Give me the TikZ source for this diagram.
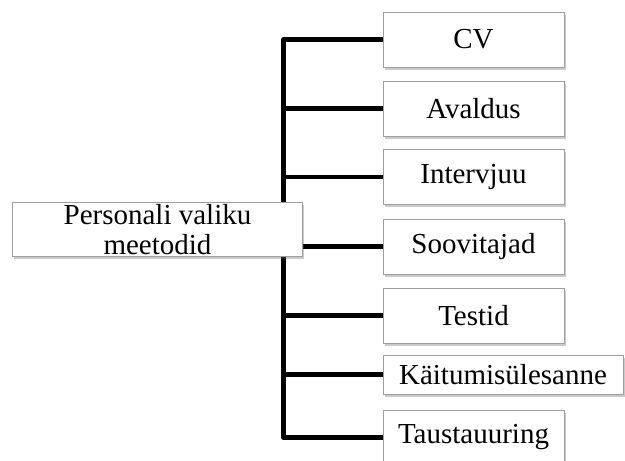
\documentclass[tikz,border=0pt]{standalone}
\usepackage{fontspec}
\setmainfont{Liberation Serif}
\usetikzlibrary{shadows,backgrounds}
\begin{document}
\begin{tikzpicture}[x=1pt,y=-1pt,
  box/.style={draw=black!38, line width=1pt, fill=white, inner sep=0pt,
    align=center, font=\fontsize{29}{30}\selectfont,
    drop shadow={shadow xshift=1.5pt, shadow yshift=-2.5pt, opacity=0.35, fill=black!60}},
  item/.style={box, minimum width=181pt, minimum height=55pt},
  link/.style={line width=4.6pt, line join=round, draw=black}]
\useasboundingbox (0,0) rectangle (625,461);

% main topic
\node[box, minimum width=290pt, minimum height=54pt] (main) at (157.5,229.7)
  {Personali valiku\\meetodid};

% methods
\node[item] (cv)   at (473.5,39.5)  {CV};
\node[item] (aval) at (473.5,108.5) {Avaldus};
\node[item] (intv) at (473.5,177)   {Intervjuu};
\node[item] (soov) at (473.5,246.5) {Soovitajad};
\node[item] (test) at (473.5,315.5) {Testid};
\node[box, minimum width=240pt, minimum height=39pt] (kait) at (503,374.5) {Käitumisülesanne};
\node[item] (taus) at (473.5,437.5) {Taustauuring};

\coordinate (trunk) at (283.5,0);

\begin{scope}[on background layer]
  \draw[link] (cv.west) -- (cv.west -| trunk) -- (taus.west -| trunk) -- (taus.west);
  \foreach \n in {aval,intv,soov,test,kait}
    \draw[link] (\n.west -| trunk) -- (\n.west);
\end{scope}
\end{tikzpicture}
\end{document}
